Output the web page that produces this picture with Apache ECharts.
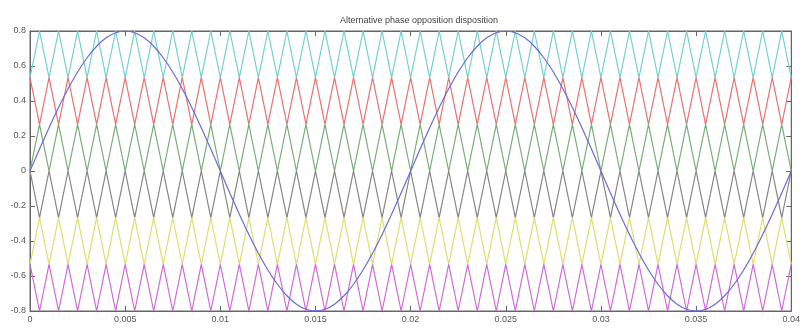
<!DOCTYPE html>
<html>
<head>
<meta charset="utf-8">
<script src="https://cdn.jsdelivr.net/npm/echarts@6/dist/echarts.min.js"></script>
<style>html,body{margin:0;padding:0;background:#fff}#c{width:803px;height:329px}</style>
</head>
<body>
<div id="c"></div>
<script>
var titleText = 'Alternative phase opposition disposition';
var xTickLabels = ['0','0.005','0.01','0.015','0.02','0.025','0.03','0.035','0.04'];
var yTickLabels = ['-0.8','-0.6','-0.4','-0.2','0','0.2','0.4','0.6','0.8'];

var times = [0,0.0005,0.001,0.0015,0.002,0.0025,0.003,0.0035,0.004,0.0045,0.005,0.0055,0.006,0.0065,0.007,0.0075,0.008,0.0085,0.009,0.0095,
0.01,0.0105,0.011,0.0115,0.012,0.0125,0.013,0.0135,0.014,0.0145,0.015,0.0155,0.016,0.0165,0.017,0.0175,0.018,0.0185,0.019,0.0195,
0.02,0.0205,0.021,0.0215,0.022,0.0225,0.023,0.0235,0.024,0.0245,0.025,0.0255,0.026,0.0265,0.027,0.0275,0.028,0.0285,0.029,0.0295,
0.03,0.0305,0.031,0.0315,0.032,0.0325,0.033,0.0335,0.034,0.0345,0.035,0.0355,0.036,0.0365,0.037,0.0375,0.038,0.0385,0.039,0.0395,0.04];

var cyanCarrier = [0.5333,0.8,0.5333,0.8,0.5333,0.8,0.5333,0.8,0.5333,0.8,0.5333,0.8,0.5333,0.8,0.5333,0.8,0.5333,0.8,0.5333,0.8,
0.5333,0.8,0.5333,0.8,0.5333,0.8,0.5333,0.8,0.5333,0.8,0.5333,0.8,0.5333,0.8,0.5333,0.8,0.5333,0.8,0.5333,0.8,
0.5333,0.8,0.5333,0.8,0.5333,0.8,0.5333,0.8,0.5333,0.8,0.5333,0.8,0.5333,0.8,0.5333,0.8,0.5333,0.8,0.5333,0.8,
0.5333,0.8,0.5333,0.8,0.5333,0.8,0.5333,0.8,0.5333,0.8,0.5333,0.8,0.5333,0.8,0.5333,0.8,0.5333,0.8,0.5333,0.8,0.5333];

var redCarrier = [0.5333,0.2667,0.5333,0.2667,0.5333,0.2667,0.5333,0.2667,0.5333,0.2667,0.5333,0.2667,0.5333,0.2667,0.5333,0.2667,0.5333,0.2667,0.5333,0.2667,
0.5333,0.2667,0.5333,0.2667,0.5333,0.2667,0.5333,0.2667,0.5333,0.2667,0.5333,0.2667,0.5333,0.2667,0.5333,0.2667,0.5333,0.2667,0.5333,0.2667,
0.5333,0.2667,0.5333,0.2667,0.5333,0.2667,0.5333,0.2667,0.5333,0.2667,0.5333,0.2667,0.5333,0.2667,0.5333,0.2667,0.5333,0.2667,0.5333,0.2667,
0.5333,0.2667,0.5333,0.2667,0.5333,0.2667,0.5333,0.2667,0.5333,0.2667,0.5333,0.2667,0.5333,0.2667,0.5333,0.2667,0.5333,0.2667,0.5333,0.2667,0.5333];

var greenCarrier = [0,0.2667,0,0.2667,0,0.2667,0,0.2667,0,0.2667,0,0.2667,0,0.2667,0,0.2667,0,0.2667,0,0.2667,
0,0.2667,0,0.2667,0,0.2667,0,0.2667,0,0.2667,0,0.2667,0,0.2667,0,0.2667,0,0.2667,0,0.2667,
0,0.2667,0,0.2667,0,0.2667,0,0.2667,0,0.2667,0,0.2667,0,0.2667,0,0.2667,0,0.2667,0,0.2667,
0,0.2667,0,0.2667,0,0.2667,0,0.2667,0,0.2667,0,0.2667,0,0.2667,0,0.2667,0,0.2667,0,0.2667,0];

var blackCarrier = [0,-0.2667,0,-0.2667,0,-0.2667,0,-0.2667,0,-0.2667,0,-0.2667,0,-0.2667,0,-0.2667,0,-0.2667,0,-0.2667,
0,-0.2667,0,-0.2667,0,-0.2667,0,-0.2667,0,-0.2667,0,-0.2667,0,-0.2667,0,-0.2667,0,-0.2667,0,-0.2667,
0,-0.2667,0,-0.2667,0,-0.2667,0,-0.2667,0,-0.2667,0,-0.2667,0,-0.2667,0,-0.2667,0,-0.2667,0,-0.2667,
0,-0.2667,0,-0.2667,0,-0.2667,0,-0.2667,0,-0.2667,0,-0.2667,0,-0.2667,0,-0.2667,0,-0.2667,0,-0.2667,0];

var yellowCarrier = [-0.5333,-0.2667,-0.5333,-0.2667,-0.5333,-0.2667,-0.5333,-0.2667,-0.5333,-0.2667,-0.5333,-0.2667,-0.5333,-0.2667,-0.5333,-0.2667,-0.5333,-0.2667,-0.5333,-0.2667,
-0.5333,-0.2667,-0.5333,-0.2667,-0.5333,-0.2667,-0.5333,-0.2667,-0.5333,-0.2667,-0.5333,-0.2667,-0.5333,-0.2667,-0.5333,-0.2667,-0.5333,-0.2667,-0.5333,-0.2667,
-0.5333,-0.2667,-0.5333,-0.2667,-0.5333,-0.2667,-0.5333,-0.2667,-0.5333,-0.2667,-0.5333,-0.2667,-0.5333,-0.2667,-0.5333,-0.2667,-0.5333,-0.2667,-0.5333,-0.2667,
-0.5333,-0.2667,-0.5333,-0.2667,-0.5333,-0.2667,-0.5333,-0.2667,-0.5333,-0.2667,-0.5333,-0.2667,-0.5333,-0.2667,-0.5333,-0.2667,-0.5333,-0.2667,-0.5333,-0.2667,-0.5333];

var magentaCarrier = [-0.5333,-0.8,-0.5333,-0.8,-0.5333,-0.8,-0.5333,-0.8,-0.5333,-0.8,-0.5333,-0.8,-0.5333,-0.8,-0.5333,-0.8,-0.5333,-0.8,-0.5333,-0.8,
-0.5333,-0.8,-0.5333,-0.8,-0.5333,-0.8,-0.5333,-0.8,-0.5333,-0.8,-0.5333,-0.8,-0.5333,-0.8,-0.5333,-0.8,-0.5333,-0.8,-0.5333,-0.8,
-0.5333,-0.8,-0.5333,-0.8,-0.5333,-0.8,-0.5333,-0.8,-0.5333,-0.8,-0.5333,-0.8,-0.5333,-0.8,-0.5333,-0.8,-0.5333,-0.8,-0.5333,-0.8,
-0.5333,-0.8,-0.5333,-0.8,-0.5333,-0.8,-0.5333,-0.8,-0.5333,-0.8,-0.5333,-0.8,-0.5333,-0.8,-0.5333,-0.8,-0.5333,-0.8,-0.5333,-0.8,-0.5333];

var reference = [0,0.1251,0.2472,0.3632,0.4702,0.5657,0.6472,0.7128,0.7608,0.7902,0.8,0.7902,0.7608,0.7128,0.6472,0.5657,0.4702,0.3632,0.2472,0.1251,
0,-0.1251,-0.2472,-0.3632,-0.4702,-0.5657,-0.6472,-0.7128,-0.7608,-0.7902,-0.8,-0.7902,-0.7608,-0.7128,-0.6472,-0.5657,-0.4702,-0.3632,-0.2472,-0.1251,
0,0.1251,0.2472,0.3632,0.4702,0.5657,0.6472,0.7128,0.7608,0.7902,0.8,0.7902,0.7608,0.7128,0.6472,0.5657,0.4702,0.3632,0.2472,0.1251,
0,-0.1251,-0.2472,-0.3632,-0.4702,-0.5657,-0.6472,-0.7128,-0.7608,-0.7902,-0.8,-0.7902,-0.7608,-0.7128,-0.6472,-0.5657,-0.4702,-0.3632,-0.2472,-0.1251,0];

function pairs(vals){ return times.map(function(t,i){ return [t, vals[i]]; }); }

var carriers = [
  {name:'cyan', data:cyanCarrier, color:'#74d0d0'},
  {name:'red', data:redCarrier, color:'#ea7272'},
  {name:'green', data:greenCarrier, color:'#78ad78'},
  {name:'black', data:blackCarrier, color:'#858585'},
  {name:'yellow', data:yellowCarrier, color:'#dede72'},
  {name:'magenta', data:magentaCarrier, color:'#d26ad6'}
];

var series = carriers.map(function(c){
  return {type:'line', name:c.name, data:pairs(c.data), symbol:'none', silent:true,
    lineStyle:{color:c.color, width:1.2}, z:2};
});
series.push({type:'line', name:'reference', data:pairs(reference), symbol:'none', smooth:0.3, silent:true,
  lineStyle:{color:'#6a6ae0', width:1.2}, z:3});

var chart = echarts.init(document.getElementById('c'), null, {renderer:'canvas'});
var axisFont = {fontFamily:'Liberation Sans, Arial, sans-serif', fontSize:9, color:'#555'};
var axisLineStyle = {show:true, onZero:false, lineStyle:{color:'#666'}};
var tickStyle = {show:true, inside:true, length:5, lineStyle:{color:'#666'}};
chart.setOption({
  animation:false,
  backgroundColor:'#ffffff',
  title:{text:titleText, left:414, top:11, textAlign:'center',
    textStyle:{fontFamily:'Liberation Sans, Arial, sans-serif', fontSize:9, fontWeight:'normal', color:'#444'}},
  grid:{left:30, right:8, top:31, bottom:18, show:true, borderColor:'#666', borderWidth:1, backgroundColor:'#fff'},
  xAxis:[{type:'value', min:0, max:0.04, interval:0.005,
    axisLine:axisLineStyle, axisTick:tickStyle, splitLine:{show:false},
    axisLabel:Object.assign({margin:4, formatter:function(v){ var i=Math.round(v/0.005); return xTickLabels[i]; }}, axisFont)},
    {type:'value', position:'top', min:0, max:0.04, interval:0.005,
    axisLine:axisLineStyle, axisTick:tickStyle, splitLine:{show:false}, axisLabel:{show:false}}],
  yAxis:[{type:'value', min:-0.8, max:0.8, interval:0.2,
    axisLine:axisLineStyle, axisTick:tickStyle, splitLine:{show:false},
    axisLabel:Object.assign({margin:4, formatter:function(v){ var i=Math.round((v+0.8)/0.2); return yTickLabels[i]; }}, axisFont)},
    {type:'value', position:'right', min:-0.8, max:0.8, interval:0.2,
    axisLine:axisLineStyle, axisTick:tickStyle, splitLine:{show:false}, axisLabel:{show:false}}],
  series:series
});
</script>
</body>
</html>
